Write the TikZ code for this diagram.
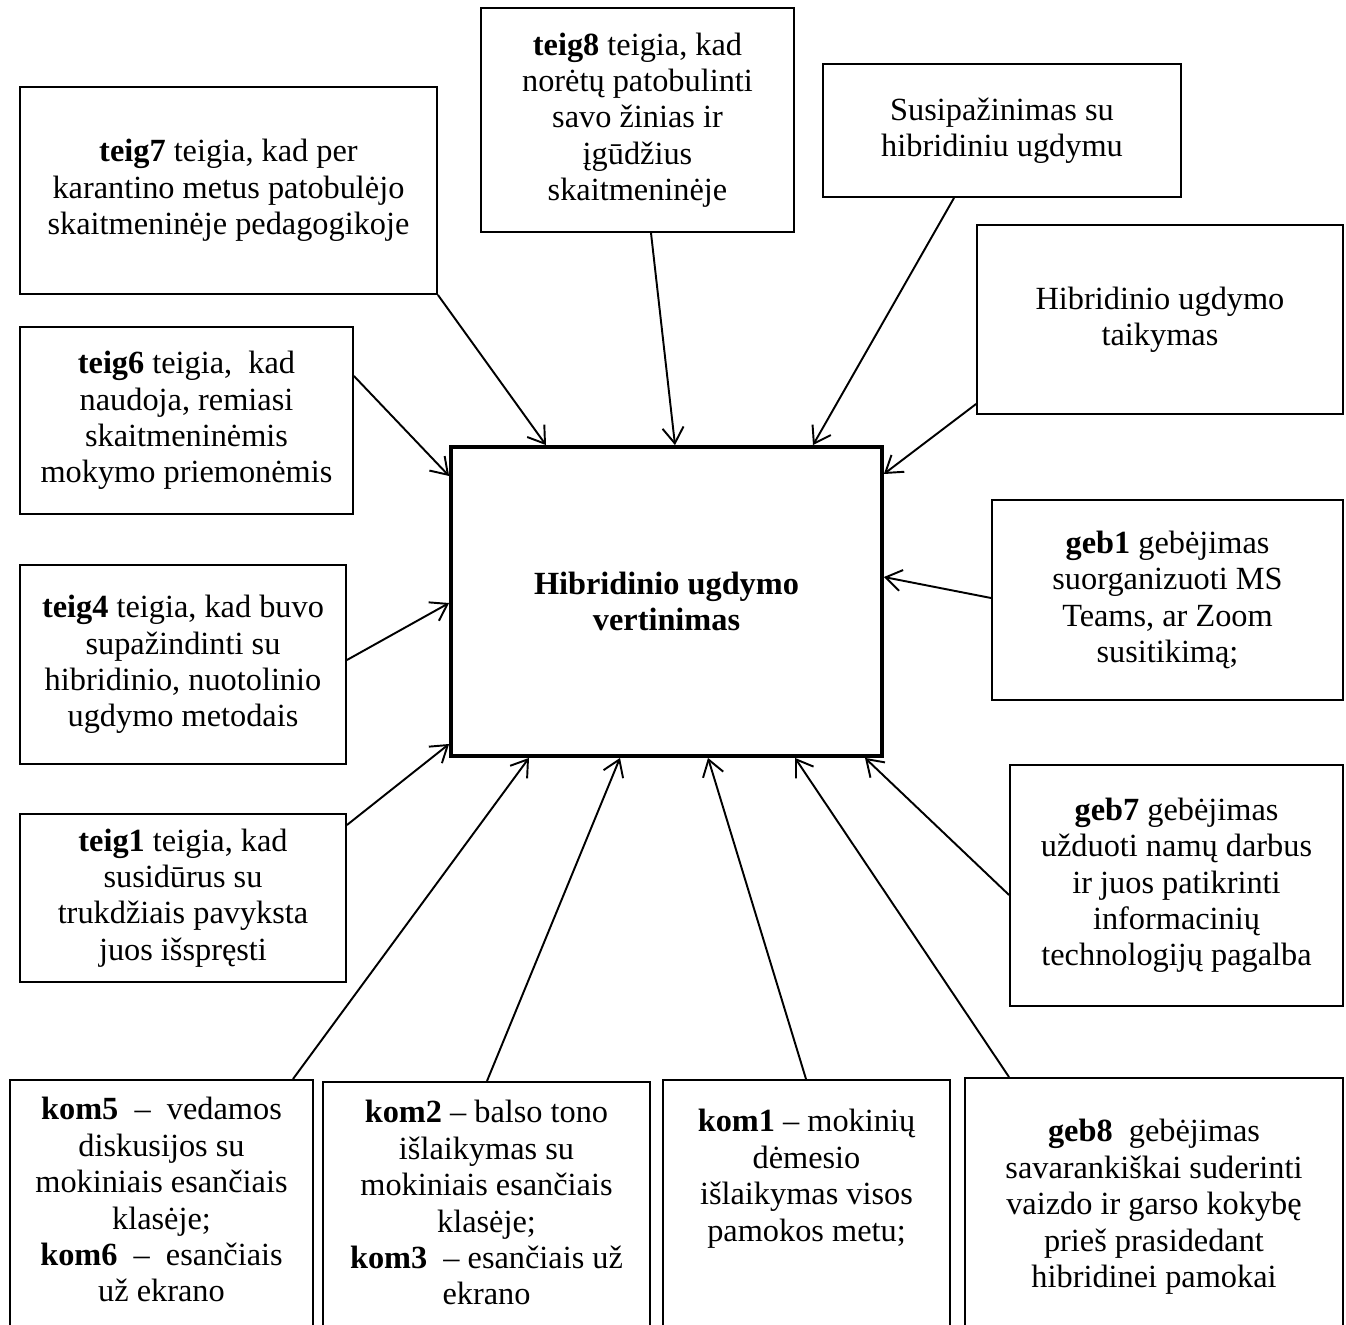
\documentclass[tikz,border=0pt]{standalone}
\usepackage{fontspec}
\setmainfont{Liberation Serif}
\usetikzlibrary{arrows.meta}

\tikzset{
  box/.style={draw, line width=1.1pt, align=flush center, inner sep=0pt,
    font=\fontsize{18.4}{20.7}\selectfont},
  lowbox/.style={box, anchor=north, text height=0pt, text depth=200pt},
  arr/.style={-{Straight Barb[length=9pt,width=12pt]}, line width=1.1pt}
}

\begin{document}
\begin{tikzpicture}[x=0.02cm, y=-0.02cm]
%\draw [help lines] (0,0) grid (1346,1325);
\useasboundingbox (0,0) rectangle (1346,1325);
\clip (0,0) rectangle (1346,1325);

% middle
\node [box, line width=2.2pt, minimum width=8.62cm, minimum height=6.18cm] (vert) at (666.5,601.5)
  {\textbf{Hibridinio ugdymo}\\ \textbf{vertinimas}};

% top and left side
\node [box, minimum width=8.34cm, minimum height=4.14cm] (teig7) at (228.5,190.5)
  {\textbf{teig7} teigia, kad per\\ karantino metus patobulėjo\\ skaitmeninėje pedagogikoje};
\node [box, minimum width=6.26cm, minimum height=4.48cm] (teig8) at (637.5,120)
  {\textbf{teig8} teigia, kad\\ norėtų patobulinti\\ savo žinias ir\\ įgūdžius\\ skaitmeninėje};
\node [box, minimum width=6.66cm, minimum height=3.74cm] (teig6) at (186.5,420.5)
  {\textbf{teig6} teigia,\ \ kad\\ naudoja, remiasi\\ skaitmeninėmis\\ mokymo priemonėmis};
\node [box, minimum width=6.52cm, minimum height=3.98cm] (teig4) at (183,664.5)
  {\textbf{teig4} teigia, kad buvo\\ supažindinti su\\ hibridinio, nuotolinio\\ ugdymo metodais};
\node [box, minimum width=6.52cm, minimum height=3.36cm] (teig1) at (183,898)
  {\textbf{teig1} teigia, kad\\ susidūrus su\\ trukdžiais pavyksta\\ juos išspręsti};

% right side
\node [box, minimum width=7.16cm, minimum height=2.66cm] (susip) at (1002,130.5)
  {Susipažinimas su\\ hibridiniu ugdymu};
\node [box, minimum width=7.32cm, minimum height=3.78cm] (taik) at (1160,319.5)
  {Hibridinio ugdymo\\ taikymas};
\node [box, minimum width=7.02cm, minimum height=4.00cm] (geb1) at (1167.5,600)
  {\textbf{geb1} gebėjimas\\ suorganizuoti MS\\ Teams, ar Zoom\\ susitikimą;};
\node [box, minimum width=6.66cm, minimum height=4.82cm] (geb7) at (1176.5,885.5)
  {\textbf{geb7} gebėjimas\\ užduoti namų darbus\\ ir juos patikrinti\\ informacinių\\ technologijų pagalba};

% bottom row (cut by the page edge)
\node [lowbox, text width=6.06cm, inner ysep=0.80cm] (kom5) at (161.5,1079)
  {\textbf{kom5}\ \ –\ \ vedamos\\ diskusijos su\\ mokiniais esančiais\\ klasėje;\\ \textbf{kom6}\ \ –\ \ esančiais\\ už ekrano};
\node [lowbox, text width=6.54cm, inner ysep=0.82cm] (kom2) at (486.5,1081)
  {\textbf{kom2} – balso tono\\ išlaikymas su\\ mokiniais esančiais\\ klasėje;\\ \textbf{kom3}\ \ – esančiais už\\ ekrano};
\node [lowbox, text width=5.74cm, inner ysep=1.04cm] (kom1) at (806.5,1079)
  {\textbf{kom1} – mokinių\\ dėmesio\\ išlaikymas visos\\ pamokos metu;};
\node [lowbox, text width=7.56cm, inner ysep=1.28cm] (geb8) at (1154,1077)
  {\textbf{geb8}\ \ gebėjimas\\ savarankiškai suderinti\\ vaizdo ir garso kokybę\\ prieš prasidedant\\ hibridinei pamokai};

% arrows into the middle box
\draw [arr] (teig7.south east) -- (vert.north -| 546,0);
\draw [arr] (teig8.south -| 651,0) -- (vert.north -| 675,0);
\draw [arr] (susip.south -| 954,0) -- (vert.north -| 813,0);
\draw [arr] (taik.west |- 0,404) -- (vert.east |- 0,474);
\draw [arr] (teig6.east |- 0,376) -- (vert.west |- 0,476);
\draw [arr] (geb1.west |- 0,598) -- (vert.east |- 0,577);
\draw [arr] (teig4.east |- 0,660) -- (vert.west |- 0,603);
\draw [arr] (teig1.east |- 0,825) -- (vert.west |- 0,744);
\draw [arr] (geb7.west |- 0,895) -- (vert.south -| 865,0);
\draw [arr] (kom5.north -| 293,0) -- (vert.south -| 529,0);
\draw [arr] (kom2.north -| 487,0) -- (vert.south -| 620,0);
\draw [arr] (kom1.north -| 806,0) -- (vert.south -| 708,0);
\draw [arr] (geb8.north -| 1009,0) -- (vert.south -| 795,0);
\end{tikzpicture}
\end{document}
